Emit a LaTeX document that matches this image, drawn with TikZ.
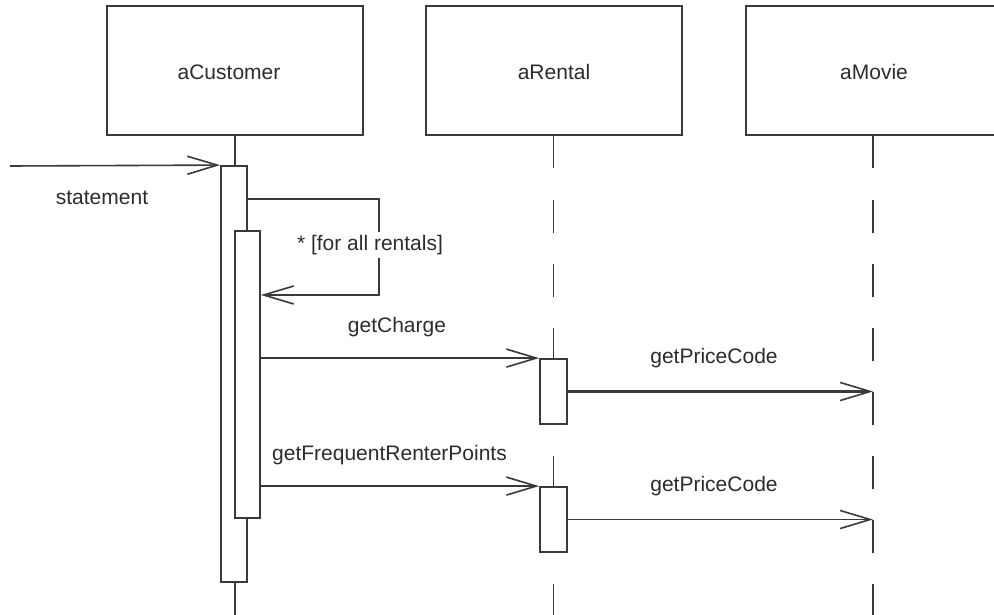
\documentclass[tikz,border=0pt]{standalone}
\usepackage{fontspec}
\setmainfont{Liberation Sans}
\usetikzlibrary{arrows.meta}
\definecolor{ink}{HTML}{3A3A3A}
\definecolor{txt}{HTML}{2C2C2C}
\begin{document}
\begin{tikzpicture}[x=1pt,y=-1pt,
  objbox/.style={draw=ink,line width=2pt,minimum width=256pt,minimum height=129pt,inner sep=0pt,text=txt,font=\fontsize{21}{24}\selectfont},
  actbar/.style={draw=ink,fill=white,line width=1.8pt,inner sep=0pt,minimum width=26pt},
  msg/.style={draw=ink,line width=1.6pt,-{Straight Barb[length=30pt,width=18pt,line width=1.6pt]}},
  lbl/.style={text=txt,font=\fontsize{21}{24}\selectfont,inner sep=1pt},
  life/.style={draw=ink,line width=1.8pt},
  dlife/.style={draw=ink,line width=1.8pt,dash pattern=on 32.5pt off 31.5pt}]
\useasboundingbox (0,0) rectangle (994,615);
\fill[white] (0,0) rectangle (994,615);
% object boxes
\node[objbox] (cust) at (235,70.5) {};
\node[objbox] (rent) at (554,70.5) {};
\node[objbox] (movie) at (874,70.5) {};
\node[lbl] (custT) at (229,72) {aCustomer};
\node[lbl] (rentT) at (554,72) {aRental};
\node[lbl] (movieT) at (874,72) {aMovie};
% lifelines
\coordinate (custEnd) at (235,615);
\coordinate (rentEnd) at (553.5,615);
\coordinate (movieEnd) at (873,615);
\draw[life] (cust.south) -- (custEnd);
\draw[dlife] (rent.south -| rentEnd) -- (rentEnd);
\draw[dlife] (movie.south -| movieEnd) -- (movieEnd);
% activation bars
\node[actbar,minimum height=416pt] (act1) at (234,374) {};
\node[actbar,minimum width=25pt,minimum height=287pt] (act2) at (247.5,374.5) {};
\node[actbar,minimum width=27pt,minimum height=65pt] (r1) at (553.5,391.5) {};
\node[actbar,minimum width=27pt,minimum height=65pt] (r2) at (553.5,519.5) {};
% statement
\coordinate (start) at (10,166);
\draw[msg] (start) -- (act1.north west);
\node[lbl] (stmt) at (102,198) {statement};
% self loop
\coordinate (loopA) at (act1.east |- 0,199);
\coordinate (loopB) at (379,199);
\coordinate (loopC) at (379,295);
\draw[msg] (loopA) -- (loopB) -- (loopC) -- (act2.east |- loopC);
\node[lbl,fill=white,inner sep=3pt] (loopT) at (370,245) {* [for all rentals]};
% messages
\draw[msg,line width=1.3pt] (act2.east |- r1.north) -- (r1.north west);
\node[lbl] (gc) at (397,327) {getCharge};
\draw[msg,line width=2.2pt] (r1.east) -- (r1.east -| movieEnd);
\node[lbl] (gpc1) at (714,358) {getPriceCode};
\draw[msg,line width=2pt] (act2.east |- r2.north) -- (r2.north west);
\node[lbl] (gfrp) at (389.5,455) {getFrequentRenterPoints};
\draw[msg,line width=1.4pt] (r2.east) -- (r2.east -| movieEnd);
\node[lbl] (gpc2) at (714,486) {getPriceCode};
\end{tikzpicture}
\end{document}
